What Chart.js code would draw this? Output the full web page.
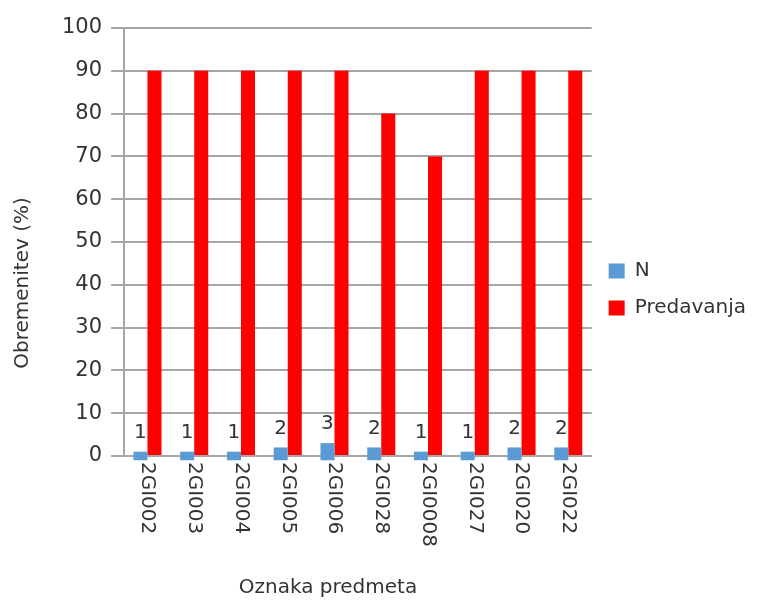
<!DOCTYPE html>
<html>
<head>
<meta charset="utf-8">
<script src="https://cdn.jsdelivr.net/npm/chart.js@4.4.1/dist/chart.umd.min.js"></script>
<style>
  html, body { margin: 0; padding: 0; background: #fff; }
  #okvir { width: 761px; height: 601px; }
</style>
</head>
<body>
<div id="okvir"><canvas id="graf"></canvas></div>
<script>
const predmeti = ["2GI002", "2GI003", "2GI004", "2GI005", "2GI006", "2GI028", "2GI0008", "2GI027", "2GI020", "2GI022"];
const vrednostiN = [1, 1, 1, 2, 3, 2, 1, 1, 2, 2];
const predavanja = [90, 90, 90, 90, 90, 80, 70, 90, 90, 90];

const pisava = "'DejaVu Sans', Verdana, sans-serif";
const barvaBesedila = "#333333";
const barvaMreze = "#a6a6a6";

// oznake predmetov so zasukane v smeri urinega kazalca (beremo od zgoraj navzdol)
const navpicneOznake = {
    id: "navpicneOznake",
    afterDraw(chart) {
        const os = chart.scales.x;
        const ctx = chart.ctx;
        ctx.save();
        ctx.font = "20px " + pisava;
        ctx.fillStyle = barvaBesedila;
        ctx.textAlign = "left";
        ctx.textBaseline = "middle";
        os.ticks.forEach((t, i) => {
            ctx.save();
            ctx.translate(os.getPixelForTick(i), os.top + 6);
            ctx.rotate(Math.PI / 2);
            ctx.fillText(predmeti[i], 0, 0);
            ctx.restore();
        });
        ctx.restore();
    }
};

// naslova osi: v izvirniku sta centrirana na celotno sliko, ne na risalno povrsino
const naslovaOsi = {
    id: "naslovaOsi",
    afterDraw(chart) {
        const ctx = chart.ctx;
        ctx.save();
        ctx.font = "20px " + pisava;
        ctx.fillStyle = barvaBesedila;
        ctx.textAlign = "center";
        ctx.textBaseline = "middle";
        ctx.fillText("Oznaka predmeta", 328, 588);
        ctx.translate(23, 283);
        ctx.rotate(-Math.PI / 2);
        ctx.fillText("Obremenitev (%)", 0, 0);
        ctx.restore();
    }
};

// vrednosti nad modrimi stolpci
const oznakeN = {
    id: "oznakeN",
    afterDatasetsDraw(chart) {
        const ctx = chart.ctx;
        const meta = chart.getDatasetMeta(0);
        ctx.save();
        ctx.font = "20px " + pisava;
        ctx.fillStyle = barvaBesedila;
        ctx.textAlign = "center";
        ctx.textBaseline = "bottom";
        meta.data.forEach((stolpec, i) => {
            ctx.fillText(String(vrednostiN[i]), stolpec.x, stolpec.y - 9);
        });
        ctx.restore();
    }
};

new Chart(document.getElementById("graf"), {
    type: "bar",
    data: {
        labels: predmeti,
        datasets: [{
            label: "N",
            data: vrednostiN,
            backgroundColor: "#5b9bd5",
            base: -1,
            clip: false
        }, {
            label: "Predavanja",
            data: predavanja,
            backgroundColor: "#ff0000"
        }]
    },
    options: {
        responsive: true,
        maintainAspectRatio: false,
        animation: false,
        categoryPercentage: 0.6,
        barPercentage: 1.0,
        layout: { padding: { left: 53, right: 5, top: 28, bottom: 44 } },
        scales: {
            x: {
                grid: { display: false },
                border: { display: true, color: barvaMreze, width: 2 },
                ticks: {
                    color: "rgba(0,0,0,0)",
                    font: { family: pisava, size: 20 },
                    maxRotation: 90,
                    minRotation: 90,
                    autoSkip: false,
                    padding: 4
                }
            },
            y: {
                min: 0,
                max: 100,
                ticks: {
                    stepSize: 10,
                    color: barvaBesedila,
                    font: { family: pisava, size: 21 },
                    padding: 9
                },
                grid: { color: barvaMreze, lineWidth: 2, tickLength: 13 },
                border: { display: true, color: barvaMreze, width: 2 }
            }
        },
        plugins: {
            legend: {
                position: "right",
                fullSize: false,
                // prazen naslov potisne postavki navzdol kot v izvirniku
                title: {
                    display: true,
                    text: " ",
                    font: { size: 10 },
                    padding: { top: 42, bottom: 41 }
                },
                labels: {
                    boxWidth: 16,
                    boxHeight: 15,
                    padding: 17,
                    color: barvaBesedila,
                    font: { family: pisava, size: 20 }
                }
            },
            tooltip: { enabled: false }
        }
    },
    plugins: [navpicneOznake, naslovaOsi, oznakeN]
});
</script>
</body>
</html>
